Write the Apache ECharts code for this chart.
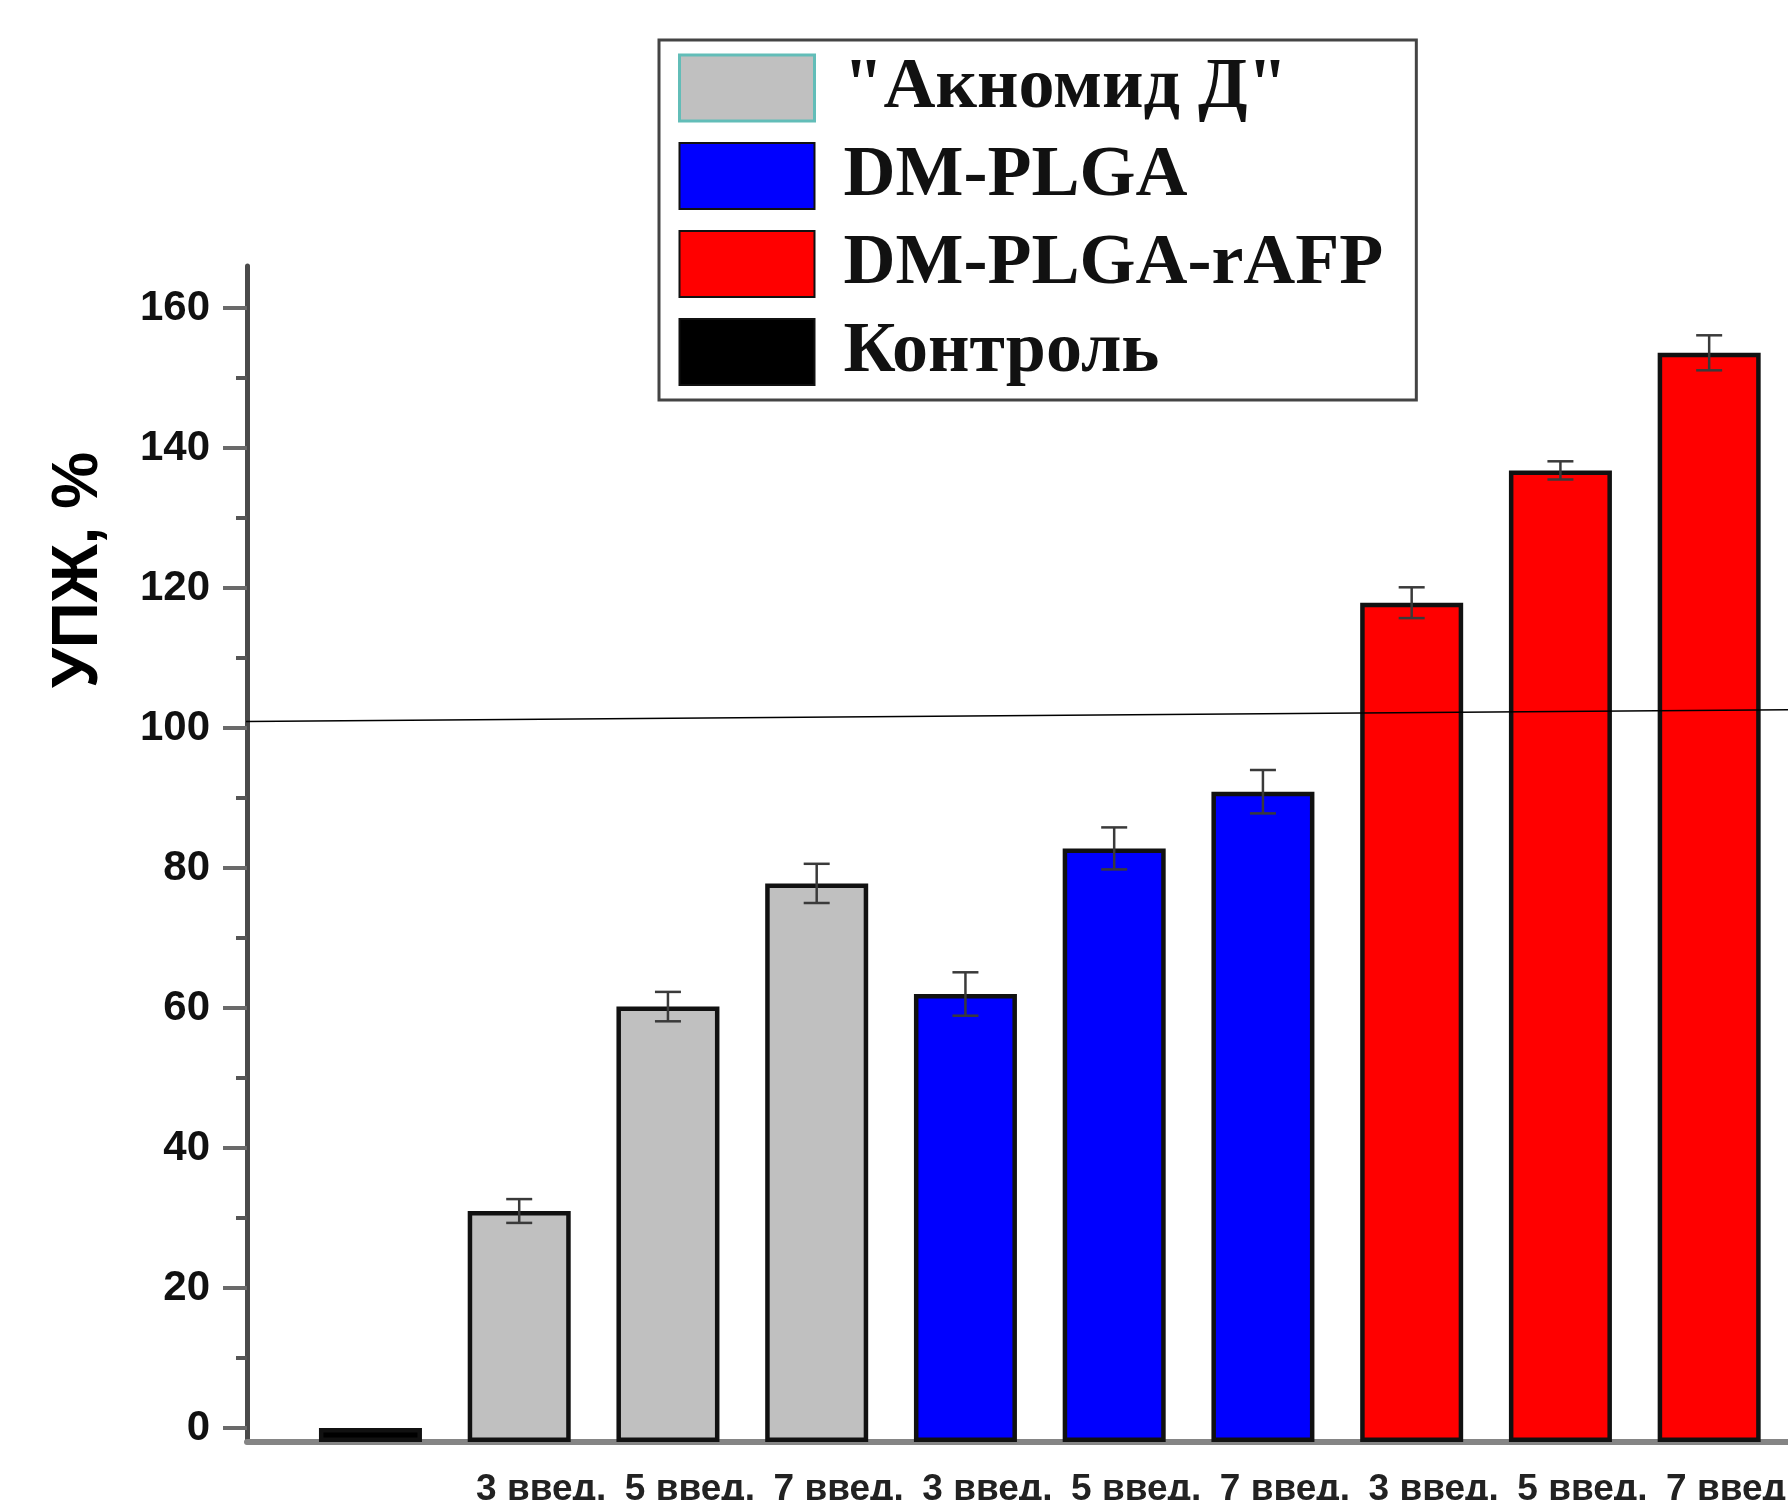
<!DOCTYPE html>
<html>
<head>
<meta charset="utf-8">
<script src="https://cdn.jsdelivr.net/npm/echarts@6/dist/echarts.min.js"></script>
<style>
html,body{margin:0;padding:0;background:#fff;}
#chart{width:1788px;height:1500px;}
</style>
</head>
<body>
<div id="chart"></div>
<script>
// ---- data ----
const seriesNames = ['"Акномид Д"', 'DM-PLGA', 'DM-PLGA-rAFP', 'Контроль'];
const slotLabels = ['', '3 введ.', '5 введ.', '7 введ.', '3 введ.', '5 введ.', '7 введ.', '3 введ.', '5 введ.', '7 введ.'];
const controlSlots = [1];
const controlValues = [0];
const aknSlots = [2, 3, 4];
const aknValues = [31.0, 60.2, 77.8];
const aknErrors = [1.7, 2.1, 2.8];
const dmSlots = [5, 6, 7];
const dmValues = [62.0, 82.8, 90.9];
const dmErrors = [3.1, 3.0, 3.1];
const rafpSlots = [8, 9, 10];
const rafpValues = [117.9, 136.8, 153.6];
const rafpErrors = [2.2, 1.3, 2.5];
const yMajorTicks = [0, 20, 40, 60, 80, 100, 120, 140, 160];
const yMinorTicks = [10, 30, 50, 70, 90, 110, 130, 150];
const refLineX = [-0.11, 10.53];
const refLineY = [100.9, 102.6];

// ---- helpers ----
const pairs = (xs, ys) => xs.map((x, i) => [x, ys[i]]);
const triples = (xs, ys, es) => xs.map((x, i) => [x, ys[i], es[i]]);
const labelSlots = slotLabels.map((_, i) => i + 1).filter((s, i) => slotLabels[i] !== '');

function barSeries(name, data, color) {
  return {
    name: name, type: 'bar', data: data, barWidth: 103, barGap: '-100%',
    itemStyle: { color: color, borderColor: '#111', borderWidth: 4.5 },
    z: 2
  };
}
function errSeries(data) {
  return {
    type: 'custom', data: data, z: 5, silent: true,
    renderItem: function (params, api) {
      const x = api.value(0), v = api.value(1), e = api.value(2);
      const top = api.coord([x, v + e]);
      const bot = api.coord([x, v - e]);
      const hw = 13;
      const st = { stroke: '#3a3a3a', lineWidth: 2.5 };
      return {
        type: 'group', children: [
          { type: 'line', shape: { x1: top[0], y1: top[1], x2: bot[0], y2: bot[1] }, style: st },
          { type: 'line', shape: { x1: top[0] - hw, y1: top[1], x2: top[0] + hw, y2: top[1] }, style: st },
          { type: 'line', shape: { x1: bot[0] - hw, y1: bot[1], x2: bot[0] + hw, y2: bot[1] }, style: st }
        ]
      };
    }
  };
}

const chart = echarts.init(document.getElementById('chart'), null, { renderer: 'canvas' });
const option = {
  backgroundColor: '#fff',
  animation: false,
  grid: { left: 247, right: 0, top: 266, bottom: 58, containLabel: false, outerBoundsMode: 'none' },
  xAxis: [{
    type: 'value', min: 0.17, max: 10.53,
    axisLine: { onZero: false, lineStyle: { color: '#858585', width: 6 } },
    axisTick: { show: false },
    splitLine: { show: false },
    axisLabel: {
      customValues: labelSlots,
      formatter: v => slotLabels[Math.round(v) - 1],
      fontFamily: '"Liberation Sans", Arial, sans-serif',
      fontWeight: 'bold', fontSize: 37, color: '#222', margin: 29,
      padding: [0, 0, 0, 44], hideOverlap: false, showMinLabel: true, showMaxLabel: true
    }
  }],
  yAxis: [{
    type: 'value', min: -2, max: 166, startValue: -2,
    axisLine: { show: true, onZero: false, lineStyle: { color: '#4a4a4a', width: 5 } },
    axisTick: { show: true, customValues: yMajorTicks, length: 24, lineStyle: { color: '#6a6a6a', width: 4 } },
    axisLabel: {
      customValues: yMajorTicks, margin: 37,
      fontFamily: '"Liberation Sans", Arial, sans-serif', fontWeight: 'bold', fontSize: 42, color: '#111'
    },
    splitLine: { show: false }
  }, {
    type: 'value', min: -2, max: 166, position: 'left', offset: 0,
    axisLine: { show: false },
    axisTick: { show: true, customValues: yMinorTicks, length: 11, lineStyle: { color: '#555', width: 4 } },
    axisLabel: { show: false },
    splitLine: { show: false }
  }],
  legend: {
    orient: 'vertical', left: 659, top: 40,
    itemWidth: 135, itemHeight: 66, itemGap: 16,
    padding: [12, 33, 12, 19],
    borderColor: '#444', borderWidth: 3, backgroundColor: '#fff',
    icon: 'rect',
    data: [
      { name: seriesNames[0], itemStyle: { borderColor: '#62bdb8', borderWidth: 3 } },
      { name: seriesNames[1] },
      { name: seriesNames[2] },
      { name: seriesNames[3] }
    ],
    textStyle: {
      fontFamily: '"Liberation Serif", "Times New Roman", serif', fontWeight: 'bold',
      fontSize: 72, color: '#111', padding: [0, 0, 0, 24]
    },
    selectedMode: false
  },
  graphic: [{
    type: 'text', x: 79, y: 570, rotation: Math.PI / 2,
    style: {
      text: 'УПЖ, %', fill: '#000', align: 'center', verticalAlign: 'middle',
      font: 'bold 64px "Liberation Sans", Arial, sans-serif'
    }
  }],
  series: [
    barSeries(seriesNames[0], pairs(aknSlots, aknValues), '#c0c0c0'),
    barSeries(seriesNames[1], pairs(dmSlots, dmValues), '#0000ff'),
    barSeries(seriesNames[2], pairs(rafpSlots, rafpValues), '#ff0000'),
    barSeries(seriesNames[3], pairs(controlSlots, controlValues), '#000000'),
    errSeries(triples(aknSlots, aknValues, aknErrors)),
    errSeries(triples(dmSlots, dmValues, dmErrors)),
    errSeries(triples(rafpSlots, rafpValues, rafpErrors)),
    {
      type: 'line', data: pairs(refLineX, refLineY), symbol: 'none', clip: false, z: 6,
      lineStyle: { color: '#000', width: 1.5 }, silent: true
    }
  ]
};
chart.setOption(option);
</script>
</body>
</html>
